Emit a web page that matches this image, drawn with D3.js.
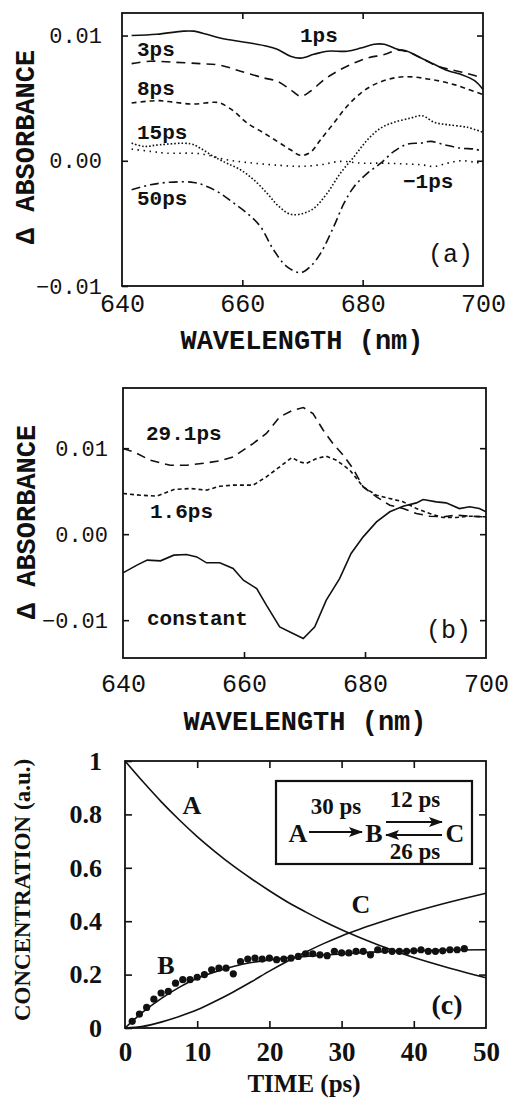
<!DOCTYPE html>
<html>
<head>
<meta charset="UTF-8">
<script src="https://d3js.org/d3.v7.min.js"></script>
<style>
  body { margin: 0; background: #fff; }
  svg { display: block; }
  .mono { font-family: "Liberation Mono", "Courier New", monospace; fill: #111; }
  .serif { font-family: "Liberation Serif", "Times New Roman", serif; fill: #111; font-weight: bold; }
  .frame { fill: none; stroke: #111; stroke-width: 1.8; }
  .curve { fill: none; stroke: #111; stroke-width: 1.6; }
</style>
</head>
<body>
<div id="chart"></div>
<script>
// ---- panel (a): transient spectra, [wavelength nm, dA] ----
const specA_1ps = [[641.6,0.0100],[645.8,0.0101],[650.2,0.01035],[651.9,0.01035],[654.1,0.0101],[656.3,0.0098],[658.6,0.0096],[661.3,0.0094],[664.1,0.00915],[665.8,0.0089],[668.0,0.00835],[669.7,0.0082],[671.9,0.0085],[674.1,0.00875],[677.4,0.00875],[679.7,0.0090],[681.9,0.0093],[683.6,0.0093],[685.8,0.0089],[687.4,0.00875],[689.7,0.0082],[691.9,0.0077],[694.1,0.0072],[696.3,0.0069],[698.6,0.0064],[700,0.0057]];
const specA_3ps = [[641.6,0.00776],[644.7,0.00795],[648.6,0.00787],[653.0,0.00776],[656.3,0.00763],[659.7,0.00715],[663.6,0.00661],[665.8,0.00635],[668.0,0.00568],[669.7,0.00515],[671.3,0.00555],[673.6,0.00648],[675.8,0.00715],[678.6,0.00781],[680.8,0.00821],[683.6,0.00848],[685.8,0.00883],[688.0,0.00861],[690.2,0.00808],[692.4,0.00755],[694.7,0.00728],[697.4,0.00696],[700,0.00661]];
const specA_8ps = [[641.6,0.00461],[644.1,0.00475],[646.3,0.0048],[648.6,0.00467],[651.9,0.00453],[655.2,0.00467],[656.3,0.00461],[658.6,0.00395],[660.8,0.00301],[663.6,0.00221],[665.8,0.00155],[668.0,0.00088],[669.7,0.00043],[671.3,0.00067],[673.0,0.00168],[675.2,0.00301],[677.4,0.00435],[679.7,0.00541],[681.9,0.00608],[684.1,0.00648],[686.3,0.00669],[688.6,0.00669],[690.8,0.00653],[693.0,0.00635],[695.2,0.00608],[697.4,0.00573],[700,0.00528]];
const specA_15ps = [[641.6,0.00141],[643.6,0.00115],[646.3,0.00128],[651.3,0.00136],[653.0,0.00101],[655.2,0.00035],[657.4,-0.00019],[659.7,-0.00072],[661.9,-0.00152],[664.1,-0.00259],[665.8,-0.00352],[668.0,-0.00427],[670.2,-0.00419],[671.9,-0.00379],[674.1,-0.00259],[676.3,-0.00099],[678.6,0.00035],[680.8,0.00168],[683.0,0.00261],[685.2,0.00307],[688.0,0.00341],[689.9,0.0036],[691.9,0.00307],[694.1,0.00288],[697.4,0.00267],[700,0.00227]];
const specA_m1ps = [[641.6,0.00093],[644.7,0.00075],[647.4,0.00061],[653.0,0.00056],[657.4,0.00008],[661.9,-0.00019],[666.3,-0.00037],[669.7,-0.00045],[673.0,-0.00032],[676.3,-0.00005],[679.7,-0.00019],[683.0,-0.00019],[686.3,-0.00024],[689.7,-0.00032],[691.9,-0.00045],[694.1,-0.00019],[696.3,0.0],[698.6,-0.00011],[700,-0.00024]];
const specA_50ps = [[641.6,-0.00232],[644.7,-0.00192],[648.0,-0.00171],[651.9,-0.00173],[654.1,-0.00205],[656.3,-0.00259],[658.6,-0.00339],[660.8,-0.00419],[663.0,-0.00525],[665.2,-0.00712],[667.4,-0.00845],[669.7,-0.00893],[671.3,-0.00845],[673.0,-0.00739],[675.2,-0.00525],[676.9,-0.00339],[678.6,-0.00205],[680.8,-0.00099],[683.0,-0.00019],[685.2,0.00075],[687.4,0.00133],[689.7,0.00141],[691.3,0.00155],[693.6,0.00128],[696.3,0.00101],[698.6,0.00093],[700,0.00075]];

// ---- panel (b): decay-associated spectra ----
const specB_29ps = [[640.0,0.00996],[641.8,0.00957],[644.5,0.0086],[647.8,0.00802],[650.5,0.00802],[653.8,0.00829],[656.0,0.00853],[658.2,0.00899],[661.5,0.01054],[663.7,0.01171],[665.9,0.01364],[668.1,0.01442],[669.8,0.01473],[671.4,0.01403],[673.1,0.01209],[674.7,0.01054],[676.4,0.00919],[678.0,0.00764],[679.7,0.0055],[681.9,0.00434],[684.1,0.00337],[686.3,0.00298],[688.5,0.0024],[690.7,0.00209],[692.9,0.00202],[695.1,0.00221],[697.3,0.00209],[700.0,0.00202]];
const specB_1_6ps = [[640.0,0.00473],[642.9,0.00453],[645.6,0.00442],[648.4,0.00519],[651.1,0.00531],[653.8,0.00512],[656.0,0.00558],[658.2,0.0057],[661.5,0.0057],[663.7,0.00667],[665.9,0.00783],[667.9,0.00891],[669.2,0.00841],[670.3,0.00822],[672.0,0.0088],[673.6,0.00907],[675.3,0.0086],[677.5,0.00744],[679.7,0.0055],[681.9,0.00453],[684.1,0.00415],[686.3,0.00376],[688.5,0.00298],[690.7,0.0024],[692.9,0.00194],[695.1,0.00194],[697.3,0.00209],[700.0,0.00202]];
const specB_const = [[640.0,-0.0045],[642.3,-0.0036],[644.0,-0.00302],[646.2,-0.0031],[648.4,-0.00244],[650.5,-0.00236],[652.2,-0.00264],[653.8,-0.00333],[656.0,-0.00333],[658.2,-0.00399],[659.9,-0.00535],[662.1,-0.00632],[663.7,-0.00826],[665.9,-0.01078],[668.1,-0.01155],[669.8,-0.01213],[671.7,-0.01078],[673.6,-0.00767],[675.8,-0.00516],[677.7,-0.00225],[679.7,-0.00031],[681.9,0.00143],[684.1,0.0026],[686.3,0.00326],[688.5,0.00364],[689.6,0.00403],[691.8,0.00376],[693.4,0.00364],[695.6,0.00298],[697.3,0.00318],[698.9,0.00298],[700.0,0.0026]];

// ---- panel (c): concentrations vs time [ps, a.u.] ----
const concA = [[0,1.0],[2.5,0.922],[5,0.848],[7.5,0.78],[10,0.717],[12.5,0.66],[15,0.607],[17.5,0.559],[20,0.514],[22.5,0.472],[25,0.435],[27.5,0.4],[30,0.368],[32.5,0.339],[35,0.312],[40,0.264],[45,0.224],[50,0.188]];
const concC = [[0,0],[2.5,0.006],[5,0.022],[7.5,0.043],[10,0.068],[12.5,0.1],[15,0.135],[17.5,0.173],[20,0.213],[22.5,0.25],[25,0.284],[27.5,0.316],[30,0.345],[32.5,0.37],[35,0.393],[40,0.435],[45,0.472],[50,0.505]];
const concBfit = [[0,0],[1,0.025],[2.5,0.06],[5,0.11],[7.5,0.152],[10,0.186],[12.5,0.21],[15,0.23],[17.5,0.245],[20,0.255],[22.5,0.262],[25,0.268],[30,0.277],[35,0.285],[40,0.289],[45,0.292],[50,0.293]];
const concBdata = [0.025,0.052,0.077,0.108,0.131,0.137,0.168,0.181,0.181,0.190,0.200,0.218,0.224,0.224,0.203,0.249,0.258,0.262,0.258,0.262,0.256,0.258,0.262,0.268,0.278,0.278,0.274,0.271,0.287,0.281,0.281,0.287,0.287,0.274,0.293,0.291,0.287,0.287,0.287,0.289,0.293,0.287,0.287,0.289,0.293,0.293,0.297];
const timesB = d3.range(1, concBdata.length + 1);

const wlTicks = [640, 660, 680, 700];
const absTicks = [-0.01, 0, 0.01];
const timeTicks = [0, 10, 20, 30, 40, 50];
const concTicks = [0, 0.2, 0.4, 0.6, 0.8, 1];

const svg = d3.select("#chart").append("svg").attr("width", 512).attr("height", 1098);
const fmtAbs = d3.format(".2f");

function inwardTicks(g, axis, cls) {
  g.call(axis);
  g.select(".domain").remove();
  g.selectAll(".tick line").attr("stroke", "#111").attr("stroke-width", 1.6);
  g.selectAll(".tick text").attr("class", cls).attr("fill", null);
}

function frame(x, y) {
  svg.append("rect").attr("class", "frame")
    .attr("x", x.range()[0]).attr("y", y.range()[1])
    .attr("width", x.range()[1] - x.range()[0]).attr("height", y.range()[0] - y.range()[1]);
}

// ================= panel (a) =================
const xa = d3.scaleLinear().domain([640, 700]).range([122, 483]);
const ya = d3.scaleLinear().domain([-0.01, 0.0118]).range([286, 13]);
const lineA = d3.line().x(d => xa(d[0])).y(d => ya(d[1])).curve(d3.curveCatmullRom);

[[specA_1ps, null], [specA_3ps, "9,6"], [specA_8ps, "5,4"], [specA_15ps, "1.6,2"], [specA_m1ps, "1.5,4.5"], [specA_50ps, "9,4,2,4"]]
  .forEach(([s, dash]) => {
    svg.append("path").datum(s).attr("class", "curve").attr("d", lineA)
      .attr("stroke-dasharray", dash).attr("stroke-width", dash && dash.startsWith("1.") ? 1.9 : 1.6);
  });
frame(xa, ya);

inwardTicks(svg.append("g").attr("transform", "translate(122,0)"),
  d3.axisLeft(ya).tickValues(absTicks).tickSize(-6).tickPadding(20).tickFormat(fmtAbs), "mono");
inwardTicks(svg.append("g").attr("transform", "translate(483,0)"),
  d3.axisRight(ya).tickValues([0, 0.01]).tickSize(-6).tickFormat(""), "mono");
inwardTicks(svg.append("g").attr("transform", "translate(0,286)"),
  d3.axisBottom(xa).tickValues(wlTicks).tickSize(0).tickPadding(8).tickFormat(d3.format("d")), "mono");
inwardTicks(svg.append("g").attr("transform", "translate(0,286)"),
  d3.axisBottom(xa).tickValues([660, 680]).tickSize(-6).tickFormat(""), "mono");
inwardTicks(svg.append("g").attr("transform", "translate(0,13)"),
  d3.axisTop(xa).tickValues([660, 680]).tickSize(-6).tickFormat(""), "mono");
svg.selectAll("g text.mono").style("font-size", "22px");
svg.selectAll("g[transform='translate(0,286)'] text.mono").style("font-size", "25px");

const labelsA = [["1ps", 300, 42], ["3ps", 137, 56], ["8ps", 137, 95], ["15ps", 137, 139], ["50ps", 137, 205], ["\u22121ps", 403, 188]];
labelsA.forEach(([t, x, y]) => svg.append("text").attr("class", "mono").attr("x", x).attr("y", y)
  .style("font-size", "21px").style("font-weight", "bold").text(t));
svg.append("text").attr("class", "mono").attr("x", 428).attr("y", 262).style("font-size", "25px").text("(a)");
svg.append("text").attr("class", "mono").attr("x", 302).attr("y", 349).attr("text-anchor", "middle")
  .style("font-size", "27px").style("font-weight", "bold").text("WAVELENGTH (nm)");
svg.append("text").attr("class", "mono").attr("transform", "translate(34,147) rotate(-90)").attr("text-anchor", "middle")
  .style("font-size", "27px").style("font-weight", "bold").text("\u0394 ABSORBANCE");

// ================= panel (b) =================
const xb = d3.scaleLinear().domain([640, 700]).range([123, 486]);
const yb = d3.scaleLinear().domain([-0.0144, 0.0170]).range([658, 388]);
const lineB = d3.line().x(d => xb(d[0])).y(d => yb(d[1]));

[[specB_29ps, "9,6"], [specB_1_6ps, "4,3"], [specB_const, null]].forEach(([s, dash]) => {
  svg.append("path").datum(s).attr("class", "curve").attr("d", lineB).attr("stroke-dasharray", dash);
});
frame(xb, yb);

const gbl = svg.append("g").attr("transform", "translate(123,0)");
inwardTicks(gbl, d3.axisLeft(yb).tickValues(absTicks).tickSize(-6).tickPadding(15).tickFormat(fmtAbs), "mono");
gbl.selectAll("text").style("font-size", "22px");
inwardTicks(svg.append("g").attr("transform", "translate(486,0)"),
  d3.axisRight(yb).tickValues(absTicks).tickSize(-6).tickFormat(""), "mono");
const gbb = svg.append("g").attr("transform", "translate(0,658)");
inwardTicks(gbb, d3.axisBottom(xb).tickValues(wlTicks).tickSize(0).tickPadding(16).tickFormat(d3.format("d")), "mono");
gbb.selectAll("text").style("font-size", "25px");
inwardTicks(svg.append("g").attr("transform", "translate(0,658)"),
  d3.axisBottom(xb).tickValues([660, 680]).tickSize(-6).tickFormat(""), "mono");

const labelsB = [["29.1ps", 146, 440], ["1.6ps", 150, 518], ["constant", 147, 625]];
labelsB.forEach(([t, x, y]) => svg.append("text").attr("class", "mono").attr("x", x).attr("y", y)
  .style("font-size", "21px").style("font-weight", "bold").text(t));
svg.append("text").attr("class", "mono").attr("x", 426).attr("y", 638).style("font-size", "25px").text("(b)");
svg.append("text").attr("class", "mono").attr("x", 305).attr("y", 730).attr("text-anchor", "middle")
  .style("font-size", "27px").style("font-weight", "bold").text("WAVELENGTH (nm)");
svg.append("text").attr("class", "mono").attr("transform", "translate(35,522) rotate(-90)").attr("text-anchor", "middle")
  .style("font-size", "27px").style("font-weight", "bold").text("\u0394 ABSORBANCE");

// ================= panel (c) =================
const xc = d3.scaleLinear().domain([0, 50]).range([125, 486]);
const yc = d3.scaleLinear().domain([0, 1]).range([1028, 761]);
const lineC = d3.line().x(d => xc(d[0])).y(d => yc(d[1])).curve(d3.curveMonotoneX);

[concA, concC, concBfit].forEach(s => {
  svg.append("path").datum(s).attr("class", "curve").attr("d", lineC);
});
svg.append("g").selectAll("circle").data(concBdata).join("circle")
  .attr("cx", (d, i) => xc(timesB[i])).attr("cy", d => yc(d)).attr("r", 3.6).attr("fill", "#111");
frame(xc, yc);

const gcl = svg.append("g").attr("transform", "translate(125,0)");
inwardTicks(gcl, d3.axisLeft(yc).tickValues(concTicks).tickSize(-7).tickPadding(23)
  .tickFormat(d => (d === 0 || d === 1) ? d3.format("d")(d) : d3.format(".1f")(d)), "serif");
gcl.selectAll("text").style("font-size", "26px");
inwardTicks(svg.append("g").attr("transform", "translate(486,0)"),
  d3.axisRight(yc).tickValues([0.2, 0.4, 0.6, 0.8]).tickSize(-7).tickFormat(""), "serif");
const gcb = svg.append("g").attr("transform", "translate(0,1028)");
inwardTicks(gcb, d3.axisBottom(xc).tickValues(timeTicks).tickSize(0).tickPadding(14).tickFormat(d3.format("d")), "serif");
gcb.selectAll("text").style("font-size", "27px");
inwardTicks(svg.append("g").attr("transform", "translate(0,1028)"),
  d3.axisBottom(xc).tickValues([10, 20, 30, 40]).tickSize(-7).tickFormat(""), "serif");
inwardTicks(svg.append("g").attr("transform", "translate(0,761)"),
  d3.axisTop(xc).tickValues([10, 20, 30, 40]).tickSize(-7).tickFormat(""), "serif");

const labelsC = [["A", 192, 814], ["B", 166, 974], ["C", 361, 913]];
labelsC.forEach(([t, x, y]) => svg.append("text").attr("class", "serif").attr("x", x).attr("y", y)
  .attr("text-anchor", "middle").style("font-size", "26px").text(t));
svg.append("text").attr("class", "serif").attr("x", 447).attr("y", 1014).attr("text-anchor", "middle")
  .style("font-size", "28px").text("(c)");
svg.append("text").attr("class", "serif").attr("x", 304).attr("y", 1092).attr("text-anchor", "middle")
  .style("font-size", "25px").text("TIME (ps)");
svg.append("text").attr("class", "serif").attr("transform", "translate(30,890) rotate(-90)").attr("text-anchor", "middle")
  .style("font-size", "23px").text("CONCENTRATION (a.u.)");

// kinetic scheme inset
svg.append("defs").append("marker").attr("id", "head")
  .attr("viewBox", "0 0 14 10").attr("refX", 13).attr("refY", 5)
  .attr("markerWidth", 14).attr("markerHeight", 10).attr("markerUnits", "userSpaceOnUse")
  .attr("orient", "auto")
  .append("path").attr("d", "M0,0L14,5L0,10L3,5Z").attr("fill", "#111");

svg.append("rect").attr("x", 276).attr("y", 781).attr("width", 196).attr("height", 83)
  .attr("fill", "none").attr("stroke", "#111").attr("stroke-width", 2.2);
const arrows = [[309, 832, 362, 832], [386, 822, 442, 822], [442, 835, 386, 835]];
arrows.forEach(([x1, y1, x2, y2]) => svg.append("line").attr("x1", x1).attr("y1", y1).attr("x2", x2).attr("y2", y2)
  .attr("stroke", "#111").attr("stroke-width", 2.2).attr("marker-end", "url(#head)"));
const scheme = [["A", 298, 842, 26], ["B", 374, 842, 26], ["C", 455, 842, 26], ["30 ps", 336, 814, 23], ["12 ps", 415, 807, 23], ["26 ps", 415, 859, 23]];
scheme.forEach(([t, x, y, fs]) => svg.append("text").attr("class", "serif").attr("x", x).attr("y", y)
  .attr("text-anchor", "middle").style("font-size", fs + "px").text(t));
</script>
</body>
</html>
